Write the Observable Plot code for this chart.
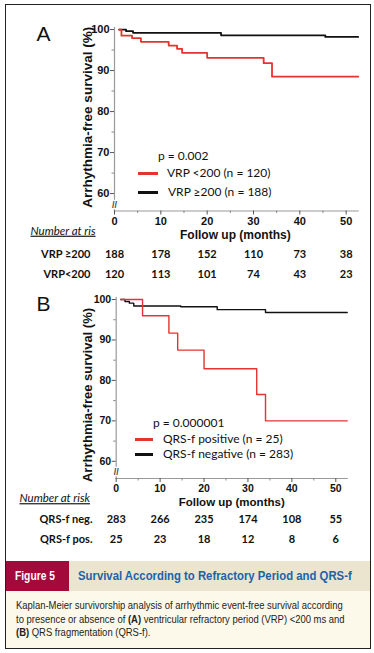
<!DOCTYPE html>
<html><head><meta charset="utf-8">
<script src="https://cdn.jsdelivr.net/npm/d3@7"></script>
<script src="https://cdn.jsdelivr.net/npm/@observablehq/plot@0.6"></script>
<style>
body{margin:0;background:#fff;}
#page{position:relative;width:374px;height:653px;background:#fff;overflow:hidden;font-family:"Liberation Sans",Arial,sans-serif;}
#page svg{position:absolute;left:0;overflow:visible;}
.abs{position:absolute;white-space:nowrap;}
.leg{position:absolute;white-space:nowrap;font-family:Lato,"Open Sans",sans-serif;font-size:12px;color:#111;line-height:14px;}
.sw{position:absolute;height:3px;}
.sq{transform-origin:0 50%;}
</style></head><body><div id="page"></div>
<script>
// ---------- data ----------
const xTicks = [0, 10, 20, 30, 40, 50];
const xMinor = [5, 15, 25, 35, 45];
const yTicks = [60, 70, 80, 90, 100];
const yMinor = [65, 75, 85, 95];

// Panel A: ventricular refractory period
const vrpHighTime = [1, 2.5, 4, 23, 45.5, 52.6];
const vrpHighSurv = [100, 99.6, 99.2, 98.6, 98.2, 98.2];
const vrpLowTime = [1, 1.5, 3.8, 5.7, 11.7, 13.5, 14.6, 20, 32.2, 34, 52.6];
const vrpLowSurv = [100, 98.5, 97.9, 97.0, 96.1, 95.3, 94.3, 93.1, 91.8, 88.5, 88.5];

// Panel B: QRS fragmentation
const qrsNegTime = [1, 2, 3, 4, 14.7, 23, 34, 52.6];
const qrsNegSurv = [100, 99.5, 99.1, 98.4, 98.2, 97.5, 96.8, 96.8];
const qrsPosTime = [1, 6, 12, 14, 20, 32, 34, 52.6];
const qrsPosSurv = [100, 96, 91.7, 87.5, 82.9, 76.5, 70, 70];

// Numbers at risk
const riskTimes = [0, 10, 20, 30, 40, 50];
const riskVrpHigh = [188, 178, 152, 110, 73, 38];
const riskVrpLow = [120, 113, 101, 74, 43, 23];
const riskQrsNeg = [283, 266, 235, 174, 108, 55];
const riskQrsPos = [25, 23, 18, 12, 8, 6];

const RED = "#e5332f", BLACK = "#111";
const pts = (ts, ss) => ts.map((t, i) => ({t, s: ss[i]}));
const rows = (ns) => riskTimes.map((t, i) => ({t, n: ns[i]}));

function panel(o) {
  const T = (text, opts) => Plot.text([text], {text: d => d, lineAnchor: "middle", textAnchor: "middle", ...opts});
  return Plot.plot({
    width: 374, height: o.height,
    marginLeft: o.marginLeft, marginRight: o.marginRight, marginTop: o.marginTop, marginBottom: o.marginBottom,
    x: {domain: [0, 52.6]},
    y: {domain: [55.75, 100.5]},
    style: {fontFamily: "'Liberation Sans', Arial, sans-serif", background: "transparent", overflow: "visible", color: "#111"},
    marks: [
      Plot.frame({anchor: "left", stroke: "#9a9a9a", strokeWidth: 1.2}),
      Plot.frame({anchor: "bottom", stroke: "#9a9a9a", strokeWidth: 1.2}),
      Plot.axisY({ticks: yTicks, tickSize: 4, tickPadding: 1, fontSize: o.tickFont, fontWeight: "bold", label: null, stroke: "#555"}),
      Plot.axisY({ticks: yMinor, tickSize: 2.5, text: null, label: null, stroke: "#888"}),
      Plot.axisX({ticks: xTicks, tickSize: 4, tickPadding: 2, fontSize: o.tickFont, fontWeight: "bold", label: null, stroke: "#555"}),
      Plot.axisX({ticks: xMinor, tickSize: 2.5, text: null, label: null, stroke: "#888"}),
      T("//", {frameAnchor: "bottom-left", dy: -6, fontSize: 9, fontWeight: "bold", fill: "#444", stroke: "white", strokeWidth: 2.5}),
      Plot.line(pts(o.blackT, o.blackS), {x: "t", y: "s", curve: "step-after", stroke: BLACK, strokeWidth: o.lw}),
      Plot.line(pts(o.redT, o.redS), {x: "t", y: "s", curve: "step-after", stroke: RED, strokeWidth: o.lw}),
      T(o.letter, {frameAnchor: "top-left", dx: 43 - o.marginLeft, dy: o.letterDy, fontSize: 21, fontWeight: "normal"}),
      T(o.yLabel, {frameAnchor: "left", dx: 87 - o.marginLeft, dy: o.yLabelDy, rotate: -90, fontSize: o.yLabelFont, fontWeight: "bold"}),
      T(o.xLabel, {frameAnchor: "bottom", dx: o.xLabelDx, dy: o.xLabelDy, fontSize: o.xLabelFont, fontWeight: "bold"}),
      T(o.riskTitle, {frameAnchor: "bottom-left", dx: o.riskTitleX - o.marginLeft, dy: o.riskTitleDy, textAnchor: "start", fontStyle: "italic", fontSize: 11.5, fontFamily: "Lato, sans-serif"}),
      T(o.row1Label, {frameAnchor: "bottom-left", dx: o.rowLabelX - o.marginLeft, dy: o.row1Dy, textAnchor: "end", fontSize: 11, fontWeight: "bold", fontFamily: "Lato, sans-serif"}),
      T(o.row2Label, {frameAnchor: "bottom-left", dx: o.rowLabelX - o.marginLeft, dy: o.row2Dy, textAnchor: "end", fontSize: 11, fontWeight: "bold", fontFamily: "Lato, sans-serif"}),
      Plot.text(rows(o.row1), {x: "t", text: "n", frameAnchor: "bottom", lineAnchor: "middle", dy: o.row1Dy, fontSize: 11, fontWeight: "bold", fontFamily: "Lato, sans-serif"}),
      Plot.text(rows(o.row2), {x: "t", text: "n", frameAnchor: "bottom", lineAnchor: "middle", dy: o.row2Dy, fontSize: 11, fontWeight: "bold", fontFamily: "Lato, sans-serif"})
    ]
  });
}

const page = document.getElementById("page");

// Panel A (page y: 100 -> 29, axis -> 210.5)
const svgA = panel({
  height: 285, marginLeft: 114, marginRight: 16.3, marginTop: 27, marginBottom: 74.5,
  tickFont: 11, lw: 1.8,
  blackT: vrpHighTime, blackS: vrpHighSurv, redT: vrpLowTime, redS: vrpLowSurv,
  letter: "A", letterDy: 7,
  yLabel: "Arrhythmia-free survival (%)", yLabelFont: 13.5, yLabelDy: -2,
  xLabel: "Follow up (months)", xLabelFont: 12, xLabelDx: -1, xLabelDy: 24,
  riskTitle: "Number at ris", riskTitleX: 30, riskTitleDy: 20,
  rowLabelX: 90, row1Label: "VRP \u2265200", row2Label: "VRP<200",
  row1: riskVrpHigh, row2: riskVrpLow, row1Dy: 43, row2Dy: 63.5
});
svgA.style.top = "0px";
page.appendChild(svgA);

// Panel B (page y: 100 -> 299, axis -> 478), svg top 285
const svgB = panel({
  height: 275, marginLeft: 115.7, marginRight: 27.3, marginTop: 12, marginBottom: 82,
  tickFont: 10.5, lw: 1.4,
  blackT: qrsNegTime, blackS: qrsNegSurv, redT: qrsPosTime, redS: qrsPosSurv,
  letter: "B", letterDy: 304 - 297,
  yLabel: "Arrhythmia-free survival (%)", yLabelFont: 13, yLabelDy: 7,
  xLabel: "Follow up (months)", xLabelFont: 11.5, xLabelDx: 0, xLabelDy: 24,
  riskTitle: "Number at risk", riskTitleX: 19, riskTitleDy: 20,
  rowLabelX: 92, row1Label: "QRS-f neg.", row2Label: "QRS-f pos.",
  row1: riskQrsNeg, row2: riskQrsPos, row1Dy: 41, row2Dy: 61
});
svgB.style.top = "285px";
page.appendChild(svgB);

// underline the "Number at risk" titles
for (const t of page.querySelectorAll("text")) {
  if (t.textContent.startsWith("Number at")) t.setAttribute("text-decoration", "underline");
}

// Legends (HTML overlays)
function legend(items) {
  for (const it of items) {
    const d = document.createElement("div");
    if (it.sw) { d.className = "sw"; Object.assign(d.style, {left: it.x + "px", top: (it.y - 1.5) + "px", width: it.w + "px", background: it.sw}); }
    else { d.className = "leg"; d.textContent = it.text; Object.assign(d.style, {left: it.x + "px", top: (it.y - 7) + "px"}); }
    page.appendChild(d);
  }
}
legend([
  {text: "p = 0.002", x: 158, y: 156},
  {sw: RED, x: 138, y: 173, w: 20},
  {text: "VRP <200 (n = 120)", x: 167, y: 173},
  {sw: BLACK, x: 138, y: 192, w: 20},
  {text: "VRP \u2265200  (n = 188)", x: 168, y: 192},
  {text: "p = 0.000001", x: 153, y: 423},
  {sw: RED, x: 135, y: 439, w: 18},
  {text: "QRS-f positive  (n = 25)", x: 163, y: 439},
  {sw: BLACK, x: 135, y: 454, w: 18},
  {text: "QRS-f negative  (n = 283)", x: 163, y: 454}
]);

// Figure banner and caption
page.insertAdjacentHTML("beforeend", `
<div class="abs" style="left:5px;top:561px;width:366px;height:30px;background:#ebe4cf;"></div>
<div class="abs" style="left:5px;top:561px;width:64px;height:30px;background:#a3093b;"></div>
<div class="abs sq" style="left:15px;top:561px;height:30px;line-height:30px;color:#fff;font-weight:bold;font-size:13.5px;transform:scaleX(0.76);">Figure 5</div>
<div class="abs sq" style="left:78px;top:561px;height:30px;line-height:30px;color:#2262a8;font-weight:bold;font-size:13.5px;transform:scaleX(0.84);">Survival According to Refractory Period and QRS-f</div>
<div class="abs" style="left:5px;top:591px;width:366px;height:58px;background:#fdf9ea;"></div>
<div class="abs sq" style="left:16px;top:599px;line-height:13.5px;color:#222;font-size:10.5px;transform:scaleX(0.9);">Kaplan-Meier survivorship analysis of arrhythmic event-free survival according<br>to presence or absence of <b>(A)</b> ventricular refractory period (VRP) &lt;200 ms and<br><b>(B)</b> QRS fragmentation (QRS-f).</div>
<div class="abs" style="left:5px;top:4px;width:366px;height:645px;border:1.5px solid #222;box-sizing:border-box;"></div>
`);
</script></body></html>
